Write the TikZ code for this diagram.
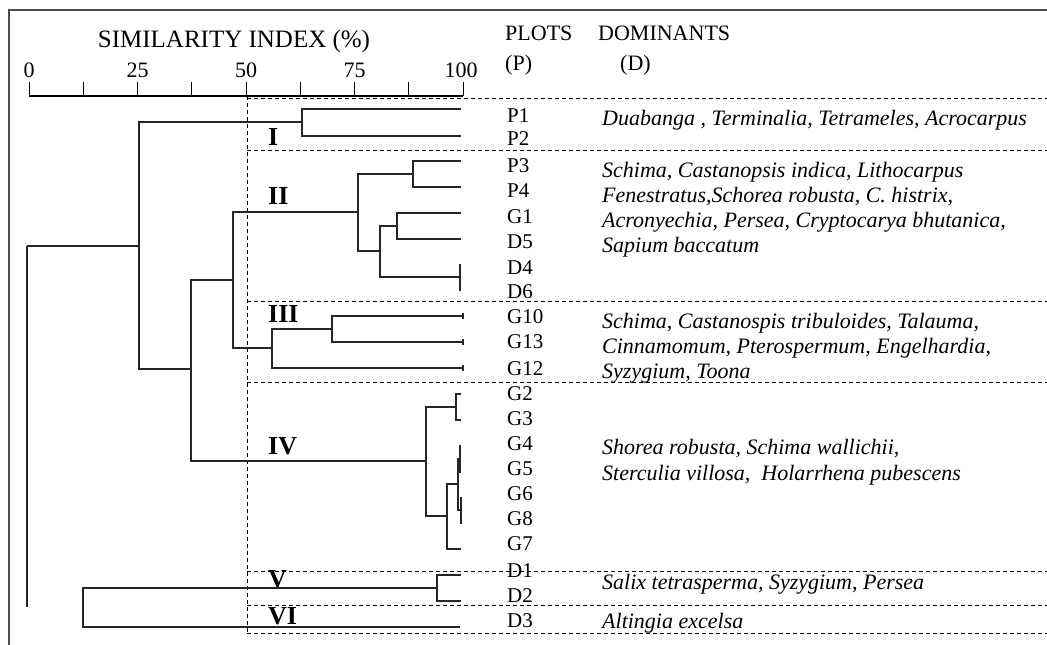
\documentclass[tikz,border=0pt]{standalone}
\usepackage{fontspec}
\setmainfont{Liberation Serif}
\begin{document}
\begin{tikzpicture}[x=1pt,y=-1pt,
  frameline/.style={line width=1.4pt, black!70},
  axisline/.style={line width=2pt},
  tickline/.style={line width=1pt},
  link/.style={line width=1.1pt, black!85},
  sep/.style={line width=0.9pt, dash pattern=on 4pt off 3pt},
  title/.style={font=\fontsize{25}{28}\selectfont, anchor=base},
  num/.style={font=\fontsize{22}{24}\selectfont, anchor=base},
  head/.style={font=\fontsize{22}{24}\selectfont, anchor=base west, inner sep=0pt},
  plot/.style={font=\fontsize{21}{23}\selectfont, anchor=base west, inner sep=0pt},
  dom/.style={font=\fontsize{22}{24}\selectfont\itshape, anchor=base west, inner sep=0pt},
  grp/.style={font=\fontsize{26}{28}\selectfont\bfseries, anchor=west, inner sep=0pt}]
\useasboundingbox (0,0) rectangle (1047,645);

% outer frame (top and left sides)
\draw[frameline] (9,645) -- (9,10) -- (1047,10);

% similarity axis
\node[title] (axtitle) at (234,47) {SIMILARITY INDEX (\%)};
\draw[axisline] (29,96) -- (463,96);
\foreach \k in {0,...,8} {
  \draw[tickline] ({29+54.25*\k},82) -- ({29+54.25*\k},96);
}
\node[num] (n0) at (29,77) {0};
\node[num] (n25) at (137.5,77) {25};
\node[num] (n50) at (246,77) {50};
\node[num] (n75) at (354.5,77) {75};
\node[num] (n100) at (461,77) {100};

% column headings
\node[head] (hplots) at (505,40) {PLOTS};
\node[head] (hdom) at (598,40) {DOMINANTS};
\node[head] (hp) at (505,70) {(P)};
\node[head] (hd) at (620,70) {(D)};

% group separators
\draw[sep] (247,96) -- (247,633);
\foreach \yy in {98,150,301,382,571,605,633} {
  \draw[sep] (247,\yy) -- (1047,\yy);
}

% leaf ends
\coordinate (lP1) at (461,109);
\coordinate (lP2) at (461,136);
\coordinate (lP3) at (461,161);
\coordinate (lP4) at (461,187);
\coordinate (lG1) at (461,213);
\coordinate (lD5) at (461,239);
\coordinate (lD4) at (460,264);
\coordinate (lD6) at (460,291);
\coordinate (lG10) at (463,316);
\coordinate (lG13) at (463,342);
\coordinate (lG12) at (463,368);
\coordinate (lG2) at (461,394);
\coordinate (lG3) at (461,420);
\coordinate (lG4) at (461,446);
\coordinate (lG5) at (461,472);
\coordinate (lG6) at (461,497);
\coordinate (lG8) at (461,524);
\coordinate (lG7) at (461,549);
\coordinate (lD1) at (461,575);
\coordinate (lD2) at (461,601);
\coordinate (lD3) at (460,627);

% merge points
\coordinate (jI) at (302,122);
\coordinate (jP34) at (413,174);
\coordinate (jG1D5) at (397,226);
\coordinate (jD46) at (460,277);
\coordinate (ja) at (380,251);
\coordinate (jII) at (358,212);
\coordinate (jG1013) at (332,329);
\coordinate (jb) at (272,348);
\coordinate (jc) at (233,280);
\coordinate (jG23) at (456,407);
\coordinate (jG45) at (460,459);
\coordinate (jG68) at (461,510);
\coordinate (jd) at (458,484);
\coordinate (je) at (447,516);
\coordinate (jIV) at (426,461);
\coordinate (jf) at (191,369);
\coordinate (jg) at (139,246);
\coordinate (jroot) at (27,246);
\coordinate (jrootend) at (27,607);
\coordinate (jV) at (437,588);
\coordinate (jh) at (83,607);

% dendrogram branches
\draw[link] (jI) |- (lP1);  \draw[link] (jI) |- (lP2);
\draw[link] (jP34) |- (lP3);  \draw[link] (jP34) |- (lP4);
\draw[link] (jG1D5) |- (lG1);  \draw[link] (jG1D5) |- (lD5);
\draw[link] (jD46) |- (lD4);  \draw[link] (jD46) |- (lD6);
\draw[link] (ja) |- (jG1D5);  \draw[link] (ja) |- (jD46);
\draw[link] (jII) |- (jP34);  \draw[link] (jII) |- (ja);
\draw[link] (jG1013) |- (lG10);  \draw[link] (jG1013) |- (lG13);
\draw[link] (lG10) ++(0,-3) -- ++(0,6);
\draw[link] (lG13) ++(0,-3) -- ++(0,6);
\draw[link] (lG12) ++(0,-3) -- ++(0,6);
\draw[link] (jb) |- (jG1013);  \draw[link] (jb) |- (lG12);
\draw[link] (jc) |- (jII);  \draw[link] (jc) |- (jb);
\draw[link] (jG23) |- (lG2);  \draw[link] (jG23) |- (lG3);
\draw[link] (jG45) |- (lG4);  \draw[link] (jG45) |- (lG5);
\draw[link] (jG68) |- (lG6);  \draw[link] (jG68) |- (lG8);
\draw[link] (jd) |- (jG45);  \draw[link] (jd) |- (jG68);
\draw[link] (je) |- (jd);  \draw[link] (je) |- (lG7);
\draw[link] (jIV) |- (jG23);  \draw[link] (jIV) |- (je);
\draw[link] (jf) |- (jc);  \draw[link] (jf) |- (jIV);
\draw[link] (jg) |- (jI);  \draw[link] (jg) |- (jf);
\draw[link] (jroot) -- (jg);
\draw[link] (jroot) -- (jrootend);
\draw[link] (jV) |- (lD1);  \draw[link] (jV) |- (lD2);
\draw[link] (jh) |- (jV);  \draw[link] (jh) |- (lD3);

% group labels
\node[grp] (gI) at (268,137) {I};
\node[grp] (gII) at (268,196) {II};
\node[grp] (gIII) at (268,314) {III};
\node[grp] (gIV) at (268,446) {IV};
\node[grp] (gV) at (268,579) {V};
\node[grp] (gVI) at (268,616) {VI};

% plot names
\node[plot] (tP1) at (507,122) {P1};
\node[plot] (tP2) at (507,145) {P2};
\node[plot] (tP3) at (507,172) {P3};
\node[plot] (tP4) at (507,197) {P4};
\node[plot] (tG1) at (507,223) {G1};
\node[plot] (tD5) at (507,248) {D5};
\node[plot] (tD4) at (507,274) {D4};
\node[plot] (tD6) at (507,298) {D6};
\node[plot] (tG10) at (507,323) {G10};
\node[plot] (tG13) at (507,348) {G13};
\node[plot] (tG12) at (507,375) {G12};
\node[plot] (tG2) at (507,400) {G2};
\node[plot] (tG3) at (507,425) {G3};
\node[plot] (tG4) at (507,450) {G4};
\node[plot] (tG5) at (507,475) {G5};
\node[plot] (tG6) at (507,500) {G6};
\node[plot] (tG8) at (507,525) {G8};
\node[plot] (tG7) at (507,550) {G7};
\node[plot] (tD1) at (507,577) {D1};
\node[plot] (tD2) at (507,602) {D2};
\node[plot] (tD3) at (507,627) {D3};

% dominant species
\node[dom] (dI) at (602,125) {Duabanga , Terminalia, Tetrameles, Acrocarpus};
\node[dom] (dIIa) at (602,177) {Schima, Castanopsis indica, Lithocarpus};
\node[dom] (dIIb) at (602,202) {Fenestratus,Schorea robusta, C. histrix,};
\node[dom] (dIIc) at (602,227) {Acronyechia, Persea, Cryptocarya bhutanica,};
\node[dom] (dIId) at (602,252) {Sapium baccatum};
\node[dom] (dIIIa) at (602,328) {Schima, Castanospis tribuloides, Talauma,};
\node[dom] (dIIIb) at (602,353) {Cinnamomum, Pterospermum, Engelhardia,};
\node[dom] (dIIIc) at (602,378) {Syzygium, Toona};
\node[dom] (dIVa) at (602,454) {Shorea robusta, Schima wallichii,};
\node[dom] (dIVb) at (602,480) {Sterculia villosa, \ Holarrhena pubescens};
\node[dom] (dV) at (602,589) {Salix tetrasperma, Syzygium, Persea};
\node[dom] (dVI) at (602,628) {Altingia excelsa};
\end{tikzpicture}
\end{document}
